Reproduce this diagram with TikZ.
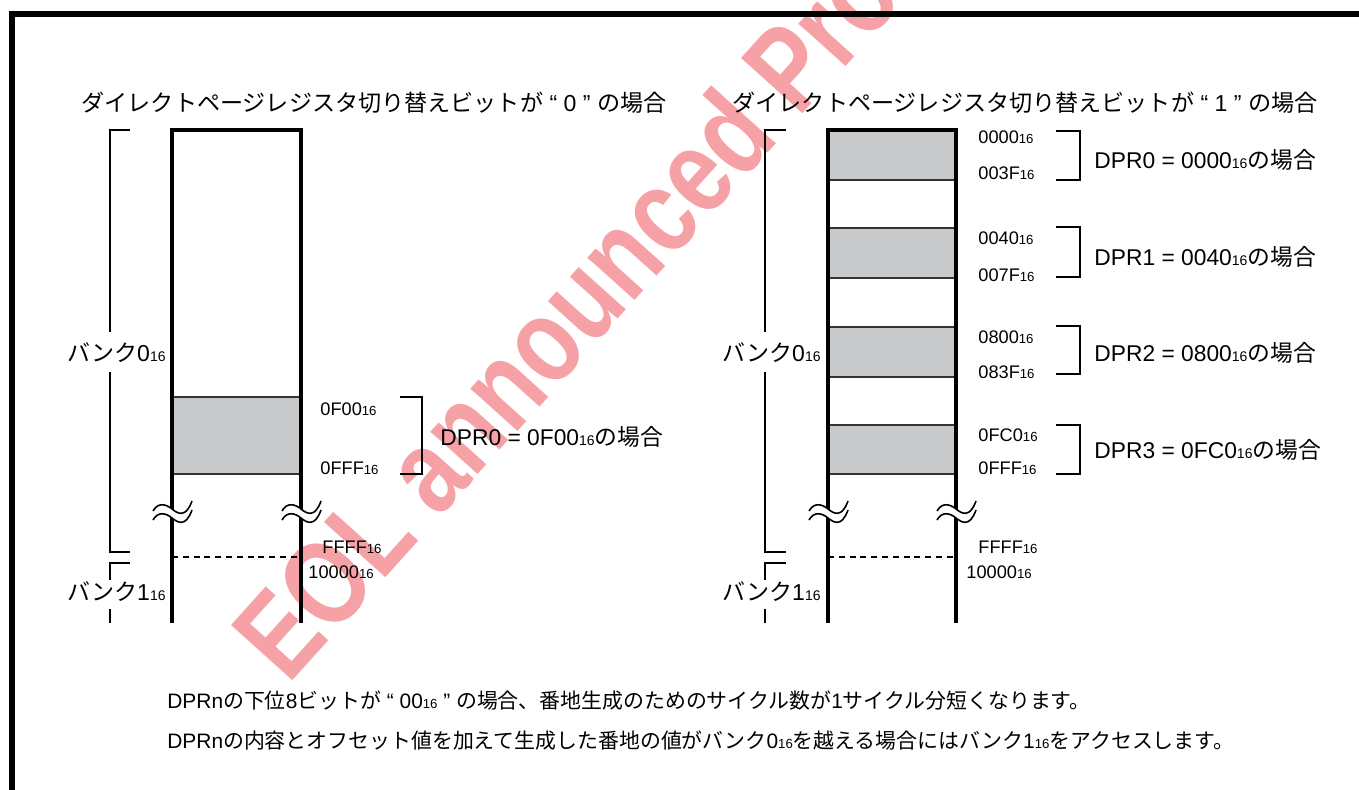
\documentclass[tikz,border=0pt]{standalone}
\usepackage{fontspec}
\setmainfont{Liberation Sans}
\newfontfamily\jp{Noto Sans CJK JP}
\newfontfamily\wmfont[FakeStretch=0.8]{Liberation Sans Bold}
\definecolor{bandgray}{RGB}{200,201,202}
\definecolor{wmred}{RGB}{232,20,30}
\newcommand\J[1]{{\jp #1}}
\newcommand\sbA[1]{{\fontsize{6.6}{7}\selectfont #1}}
\newcommand\sbB[1]{{\fontsize{7}{8}\selectfont #1}}
\newcommand\tbreak[2]{%
  \fill[white] (#1-19,#2+1) .. controls (#1-14,#2-8) and (#1-6,#2-6) .. (#1,#2-1)
     .. controls (#1+6,#2+4) and (#1+14,#2+8) .. (#1+20,#2-9) -- (#1+20,#2)
     .. controls (#1+14,#2+17) and (#1+6,#2+13) .. (#1,#2+8)
     .. controls (#1-6,#2+3) and (#1-14,#2+1) .. (#1-19,#2+10) -- cycle;
  \draw[tld] (#1-19,#2+1) .. controls (#1-14,#2-8) and (#1-6,#2-6) .. (#1,#2-1)
     .. controls (#1+6,#2+4) and (#1+14,#2+8) .. (#1+20,#2-9);
  \draw[tld] (#1-19,#2+10) .. controls (#1-14,#2+1) and (#1-6,#2+3) .. (#1,#2+8)
     .. controls (#1+6,#2+13) and (#1+14,#2+17) .. (#1+20,#2);
}
\tikzset{
  frame/.style={line width=2.6pt, line cap=butt},
  col/.style={line width=1.65pt},
  band/.style={fill=bandgray, draw=black!80, line width=0.9pt},
  brk/.style={line width=1pt},
  bankbr/.style={line width=0.85pt},
  tld/.style={line width=0.8pt},
  dsh/.style={line width=0.75pt, dash pattern=on 3pt off 2.4pt},
  addr/.style={anchor=west, inner sep=0pt, font=\fontsize{9.1}{10}\selectfont},
  dpr/.style={anchor=west, inner sep=0pt, font=\fontsize{11.4}{13}\selectfont},
  ttl/.style={inner sep=0pt, font=\fontsize{11.55}{13}\selectfont},
  bank/.style={anchor=east, inner sep=0pt, font=\fontsize{11.5}{13}\selectfont},
  note/.style={anchor=west, inner sep=0pt, font=\fontsize{10.45}{12}\selectfont},
  wm/.style={inner sep=0pt, text=wmred, opacity=0.4, font=\fontsize{60}{62}\wmfont},
}
\begin{document}
\begin{tikzpicture}[x=0.5pt,y=-0.5pt]
\useasboundingbox (0,0) rectangle (1359,790);
% watermark
\node[wm, rotate=48, anchor=base west] (wm) at (288,686) {EOL announced Product};
% frame
\draw[frame] (12,790) -- (12,14) -- (1359,14);
% titles
\node[ttl] (t0) at (374,103) {\J{ダイレクトページレジスタ切り替えビットが} “ 0 ” \J{の場合}};
\node[ttl] (t1) at (1025,103) {\J{ダイレクトページレジスタ切り替えビットが} “ 1 ” \J{の場合}};

% ---------- left map ----------
\fill[band] (172,397) rectangle (301,474);
\draw[col] (172,623) -- (172,130) -- (301,130) -- (301,623);
\draw[dsh] (172,557) -- (301,557);
\tbreak{172}{510}
\tbreak{301}{510}
% bank brackets
\node[bank] (b0l) at (166,353) {\J{バンク}0\sbB{16}};
\node[bank] (b1l) at (166,592) {\J{バンク}1\sbB{16}};
\draw[bankbr] (130,130) -- (110,130) -- (110,332);
\draw[bankbr] (110,372) -- (110,552) -- (130,552);
\draw[bankbr] (130,563) -- (110,563) -- (110,580);
\draw[bankbr] (110,609) -- (110,623);
% addresses
\node[addr] (l0f00) at (320,409) {0F00\sbA{16}};
\node[addr] (l0fff) at (320,468) {0FFF\sbA{16}};
\node[addr] (lffff) at (322,547) {FFFF\sbA{16}};
\node[addr] (l10000) at (308,572) {10000\sbA{16}};
\draw[brk] (400,397) -- (422,397) -- (422,474) -- (400,474);
\node[dpr] (ldpr0) at (440,437) {DPR0 = 0F00\sbB{16}\J{の場合}};

% ---------- right map ----------
\fill[band] (828,130) rectangle (956,180);
\fill[band] (828,228) rectangle (956,278);
\fill[band] (828,327) rectangle (956,377);
\fill[band] (828,425) rectangle (956,474);
\draw[col] (828,623) -- (828,130) -- (956,130) -- (956,623);
\draw[dsh] (828,557) -- (956,557);
\tbreak{828}{510}
\tbreak{956}{510}
\node[bank] (b0r) at (821,353) {\J{バンク}0\sbB{16}};
\node[bank] (b1r) at (821,592) {\J{バンク}1\sbB{16}};
\draw[bankbr] (786,130) -- (765,130) -- (765,332);
\draw[bankbr] (765,372) -- (765,552) -- (786,552);
\draw[bankbr] (786,563) -- (765,563) -- (765,580);
\draw[bankbr] (765,609) -- (765,623);
\node[addr] (r0000) at (978,137) {0000\sbA{16}};
\node[addr] (r003f) at (978,173) {003F\sbA{16}};
\node[addr] (r0040) at (978,238) {0040\sbA{16}};
\node[addr] (r007f) at (978,275) {007F\sbA{16}};
\node[addr] (r0800) at (978,337) {0800\sbA{16}};
\node[addr] (r083f) at (978,372) {083F\sbA{16}};
\node[addr] (r0fc0) at (978,435) {0FC0\sbA{16}};
\node[addr] (r0fff) at (978,468) {0FFF\sbA{16}};
\node[addr] (rffff) at (978,547) {FFFF\sbA{16}};
\node[addr] (r10000) at (966,572) {10000\sbA{16}};
\draw[brk] (1056,131) -- (1080,131) -- (1080,180) -- (1056,180);
\draw[brk] (1056,227) -- (1080,227) -- (1080,277) -- (1056,277);
\draw[brk] (1056,326) -- (1080,326) -- (1080,374) -- (1056,374);
\draw[brk] (1056,425) -- (1080,425) -- (1080,474) -- (1056,474);
\node[dpr] (rdpr0) at (1094,160) {DPR0 = 0000\sbB{16}\J{の場合}};
\node[dpr] (rdpr1) at (1094,257) {DPR1 = 0040\sbB{16}\J{の場合}};
\node[dpr] (rdpr2) at (1094,353) {DPR2 = 0800\sbB{16}\J{の場合}};
\node[dpr] (rdpr3) at (1094,450) {DPR3 = 0FC0\sbB{16}\J{の場合}};

% ---------- notes ----------
\node[note] (n1) at (167,701) {DPRn\J{の下位}8\J{ビットが} “ 00\sbA{16} ” \J{の場合、番地生成のためのサイクル数が}1\J{サイクル分短くなります。}};
\node[note] (n2) at (167,741) {DPRn\J{の内容とオフセット値を加えて生成した番地の値がバンク}0\sbA{16}\J{を越える場合にはバンク}1\sbA{16}\J{をアクセスします。}};
\end{tikzpicture}
\end{document}
